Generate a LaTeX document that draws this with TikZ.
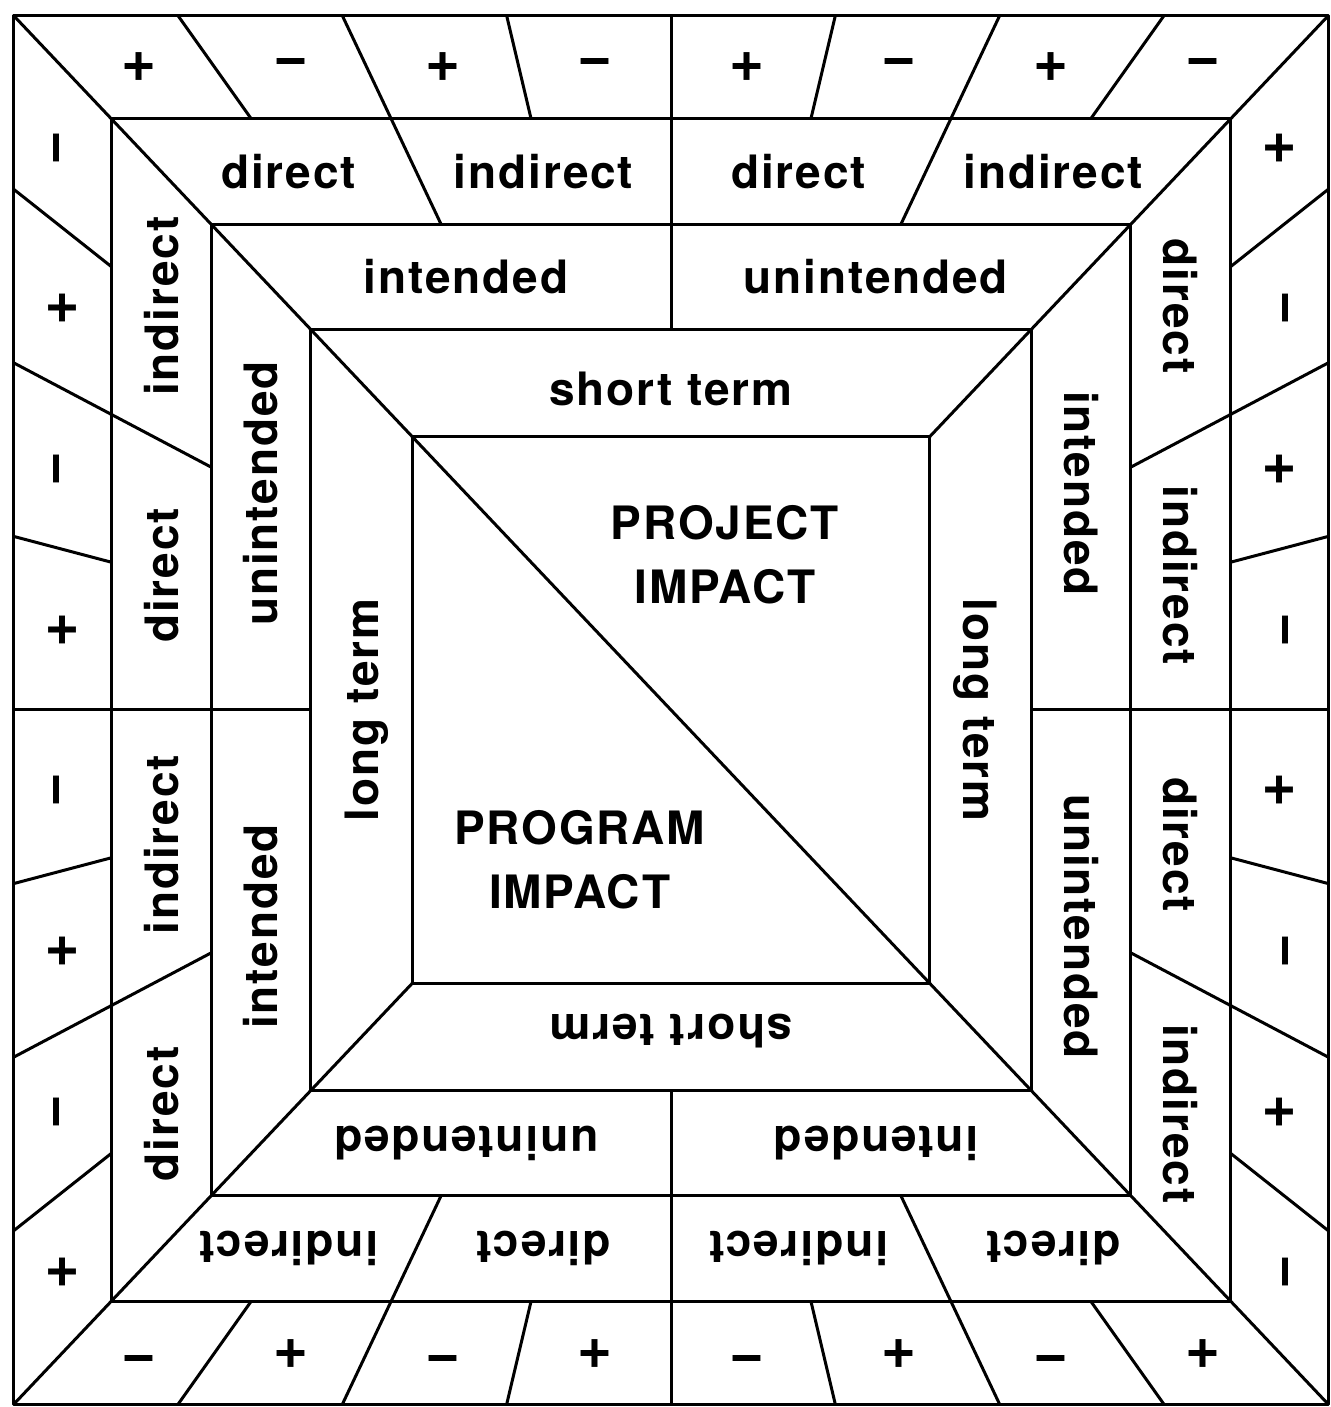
\documentclass[tikz,border=0pt]{standalone}
\usepackage{fontspec}
\setmainfont{TeX Gyre Heros}[LetterSpace=4]
\begin{document}
\begin{tikzpicture}[x=1pt,y=1pt, line width=3pt, line join=round,
  lab/.style={font=\fontsize{46}{64}\selectfont\bfseries, inner sep=0pt},
  sign/.style={lab, font=\fontsize{60}{64}\selectfont\bfseries}]
\useasboundingbox (-671,-697) rectangle (659,710);
\begin{scope}[xscale=657,yscale=694]
% five nested frames
\foreach \s in {1,0.852,0.7,0.548,0.394}
  \draw (-\s,-\s) rectangle (\s,\s);
% corner lines
\draw (-1,1) -- (1,-1);
\draw (1,1) -- (0.394,0.394);
\draw (-1,-1) -- (-0.394,-0.394);
% one side at a time, turned round the middle
\foreach \ang/\w [count=\side] in {0/short term,-90/long term,180/short term,90/long term} {
  \begin{scope}[rotate=\ang]
    \foreach \p/\s in {-0.75/0.852,-0.5/0.7,-0.25/0.852,0/0.548,0.25/0.852,0.5/0.7,0.75/0.852}
      \draw (\p,1) -- (\p*\s,\s);
    \foreach \p/\txt [count=\n] in {-0.875/+,-0.625/−,-0.375/+,-0.125/−,0.125/+,0.375/−,0.625/+,0.875/−}
      \node[sign, rotate=\ang] (sign\side\n) at (\p*0.926,0.926) {\txt};
    \foreach \p/\txt [count=\n] in {-0.75/direct,-0.25/indirect,0.25/direct,0.75/indirect}
      \node[lab, rotate=\ang] (way\side\n) at (\p*0.776,0.776) {\txt};
    \node[lab, rotate=\ang] (aim\side1) at (-0.312,0.624) {intended};
    \node[lab, rotate=\ang] (aim\side2) at (0.312,0.624) {unintended};
    \node[lab, rotate=\ang] (term\side) at (0,0.463) {\w};
  \end{scope}
}
\node[lab, align=center] (project) at (0.082,0.223) {PROJECT\\IMPACT};
\node[lab, align=center] (program) at (-0.139,-0.216) {PROGRAM\\IMPACT};
\end{scope}
\end{tikzpicture}
\end{document}
